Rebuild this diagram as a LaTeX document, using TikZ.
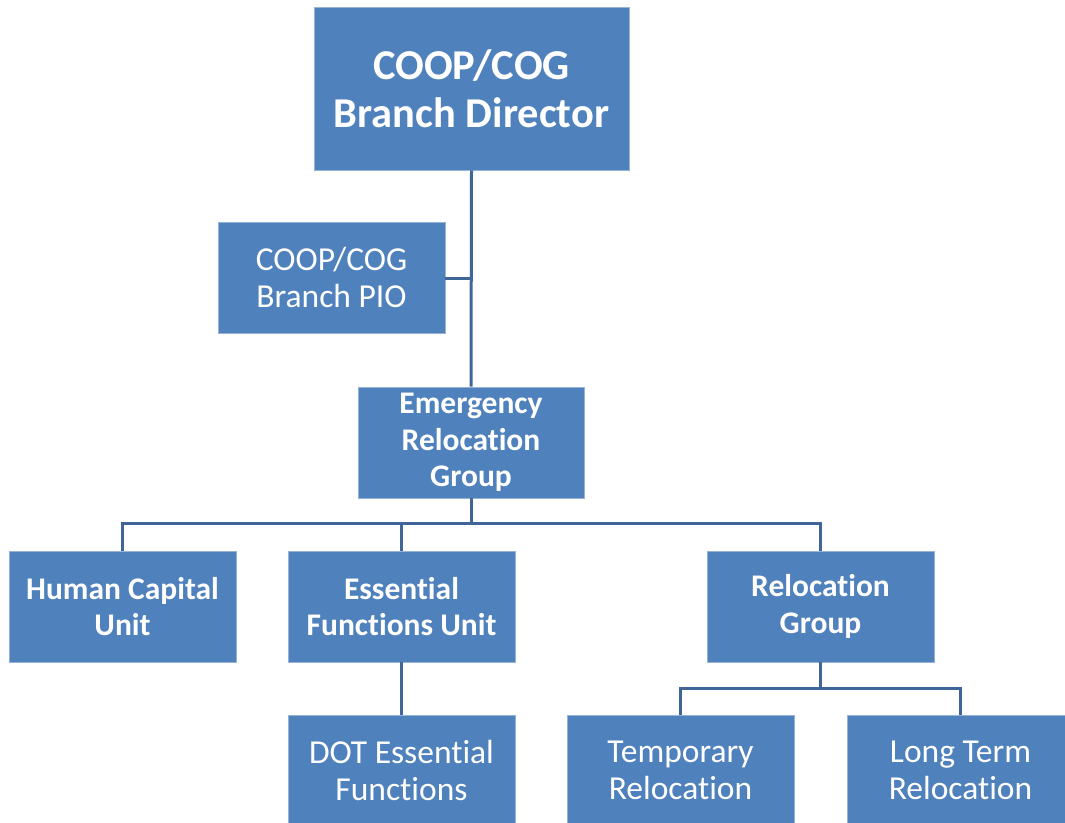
\documentclass[tikz,border=0pt]{standalone}
\usepackage{fontspec}
\setmainfont[RawFeature={-liga;-calt;-clig;-dlig}]{Carlito}
\definecolor{boxblue}{RGB}{79,129,189}
\definecolor{lineblue}{RGB}{64,101,152}
\tikzset{
  unitbox/.style={draw=boxblue!60!white, line width=0.6pt, fill=boxblue, text=white, inner sep=0pt,
    minimum width=227pt, minimum height=111pt, align=center, font=\fontsize{33.5}{37}\selectfont},
  boldbox/.style={unitbox, font=\fontsize{31.5}{36.5}\selectfont\bfseries},
  conn/.style={draw=lineblue, line width=3pt}
}
\begin{document}
\begin{tikzpicture}[x=1pt,y=-1pt]
\useasboundingbox (0,0) rectangle (1065,822);
\clip (0,0) rectangle (1065,822);
\node[unitbox, minimum width=315pt, minimum height=163pt, font=\fontsize{42.5}{48}\selectfont\bfseries] (dir) at (471.5,88.5) {COOP/COG\\Branch Director};
\node[unitbox] (pio) at (331.5,277.5) {COOP/COG\\Branch PIO};
\node[boldbox, minimum width=226pt] (erg) at (471,442.5) {Emergency\\Relocation\\Group};
\node[boldbox] (hcu) at (122.5,606.5) {Human Capital\\Unit};
\node[boldbox] (efu) at (401.5,606.5) {Essential\\Functions Unit};
\node[boldbox] (rg) at (820.5,606.5) {Relocation\\Group};
\node[unitbox] (dot) at (401.5,770.5) {DOT Essential\\Functions};
\node[unitbox] (tmp) at (680.5,770.5) {Temporary\\Relocation};
\node[unitbox] (ltr) at (960.5,770.5) {Long Term\\Relocation};
\coordinate (j1) at (471,278);
\draw[conn] (dir.south) -- (erg.north);
\draw[conn] (pio.east |- j1) -- (j1);
\draw[conn] (erg.south) -- ++(0,25) -| (hcu.north);
\draw[conn] (erg.south) -- ++(0,25) -| (efu.north);
\draw[conn] (erg.south) -- ++(0,25) -| (rg.north);
\draw[conn] (efu.south) -- (dot.north);
\draw[conn] (rg.south) -- ++(0,26) -| (tmp.north);
\draw[conn] (rg.south) -- ++(0,26) -| (ltr.north);
\end{tikzpicture}
\end{document}
